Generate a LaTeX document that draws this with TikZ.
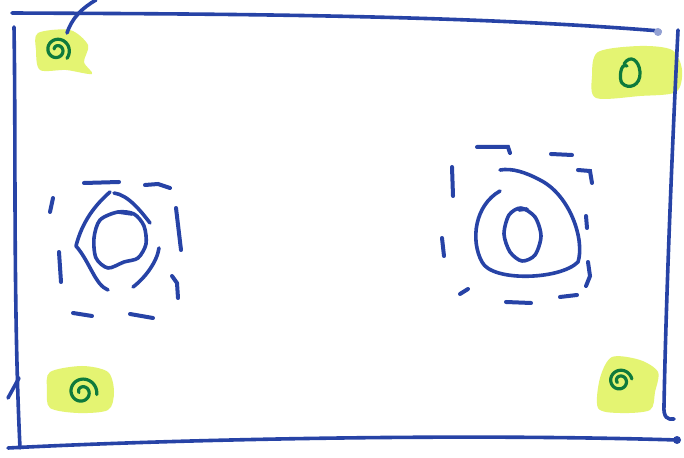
\documentclass[tikz,border=0pt]{standalone}
\usetikzlibrary{arrows.meta}
\definecolor{penblue}{HTML}{2743A6}
\definecolor{swirl}{HTML}{0E7A3C}
\definecolor{marker}{HTML}{E4F472}

\tikzset{
  pen/.style={draw=penblue,line width=1.8pt,line cap=round,line join=round},
  dashpen/.style={draw=penblue,line width=2pt,line cap=round},
  swirlpen/.style={draw=swirl,line width=1.6pt,line cap=round},
  patch/.style={fill=marker,draw=none}
}
% spiral: centre x, centre y, outer radius, start angle
\newcommand{\greenswirl}[4]{%
  \draw[swirlpen] plot[domain=0:560,samples=60,smooth]
    ({#1+(3+#3*\x/560)*cos(\x+#4)},{#2+(3+#3*\x/560)*sin(\x+#4)});}

\begin{document}
\begin{tikzpicture}[x=0.5pt,y=-0.5pt]
  \useasboundingbox[fill=white] (0,0) rectangle (684,458);

  % marker patches
  \fill[patch] plot[smooth cycle] coordinates {(38,33) (70,30) (88,45) (84,62) (92,74) (66,70) (40,70) (36,50)};
  \fill[patch] plot[smooth cycle] coordinates {(598,52) (640,46) (672,50) (682,70) (676,92) (640,96) (596,98) (592,76)};
  \fill[patch] plot[smooth cycle] coordinates {(50,372) (82,366) (108,372) (114,392) (108,410) (78,413) (50,408) (47,390)};
  \fill[patch] plot[smooth cycle] coordinates {(612,357) (640,360) (658,372) (655,392) (650,410) (620,413) (598,408) (600,378)};

  % frame
  \draw[pen] (12,13) .. controls (200,14) and (450,14) .. (660,31);
  \draw[pen] (14,27) .. controls (16,150) and (13,300) .. (20,448);
  \draw[pen] (19,378) -- (8,398);
  \draw[pen] (8,448) .. controls (160,440) and (450,433) .. (677,440);
  \fill[penblue] (677,440) circle (4);
  \draw[pen] (678,30) .. controls (672,150) and (666,300) .. (664,405)
    .. controls (663,418) and (668,420) .. (674,419);
  \fill[penblue!50] (658,32) circle (4);
  \draw[pen] (67,33) .. controls (72,18) and (82,8) .. (96,0);

  % corner swirls
  \greenswirl{57}{50}{10}{200}
  \draw[swirlpen] (627,66) .. controls (620,62) and (619,80) .. (622,83)
    .. controls (628,90) and (641,86) .. (640,72)
    .. controls (639,60) and (630,54) .. (624,64);
  \greenswirl{82}{392}{12}{170}
  \greenswirl{620}{381}{9}{150}

  % left dashed box
  \draw[dashpen] (84,183) -- (119,182);
  \draw[dashpen] (145,185) -- (158,184) -- (170,188);
  \draw[dashpen] (53,198) -- (50,212);
  \draw[dashpen] (59,252) -- (61,282);
  \draw[dashpen] (176,208) -- (181,250);
  \draw[dashpen] (172,276) -- (177,283) -- (178,298);
  \draw[dashpen] (73,313) -- (92,316);
  \draw[dashpen] (130,314) -- (153,318);

  % left rings
  \draw[pen] (110,192) .. controls (95,205) and (82,222) .. (76,246)
    .. controls (90,262) and (95,285) .. (108,290);
  \draw[pen] (114,193) .. controls (128,195) and (140,210) .. (150,223);
  \draw[pen] (159,248) .. controls (157,262) and (145,278) .. (133,287);
  \draw[pen] plot[smooth cycle] coordinates {(118,212) (134,214) (144,226) (146,244) (138,258) (124,262) (108,268) (96,258) (94,238) (100,220)};
  \draw[pen] (118,212) -- (132,214);

  % right dashed box
  \draw[dashpen] (477,147) -- (508,147) -- (510,153);
  \draw[dashpen] (551,154) -- (572,155);
  \draw[dashpen] (452,167) -- (453,196);
  \draw[dashpen] (442,238) -- (444,256);
  \draw[dashpen] (578,170) -- (590,171) -- (592,183);
  \draw[dashpen] (586,216) -- (587,228);
  \draw[dashpen] (588,262) -- (590,276) -- (586,286);
  \draw[dashpen] (460,294) -- (468,289);
  \draw[dashpen] (506,302) -- (531,303);
  \draw[dashpen] (560,297) -- (577,295);

  % right rings
  \draw[pen] (500,191) .. controls (475,205) and (470,240) .. (482,262)
    .. controls (492,282) and (560,280) .. (578,262)
    .. controls (585,240) and (570,195) .. (540,180)
    .. controls (525,172) and (512,168) .. (500,170);
  \draw[pen] plot[smooth cycle] coordinates {(521,208) (535,217) (541,236) (535,255) (522,261) (510,252) (504,234) (509,215)};
  \draw[pen] (519,210) -- (527,209);
\end{tikzpicture}
\end{document}
